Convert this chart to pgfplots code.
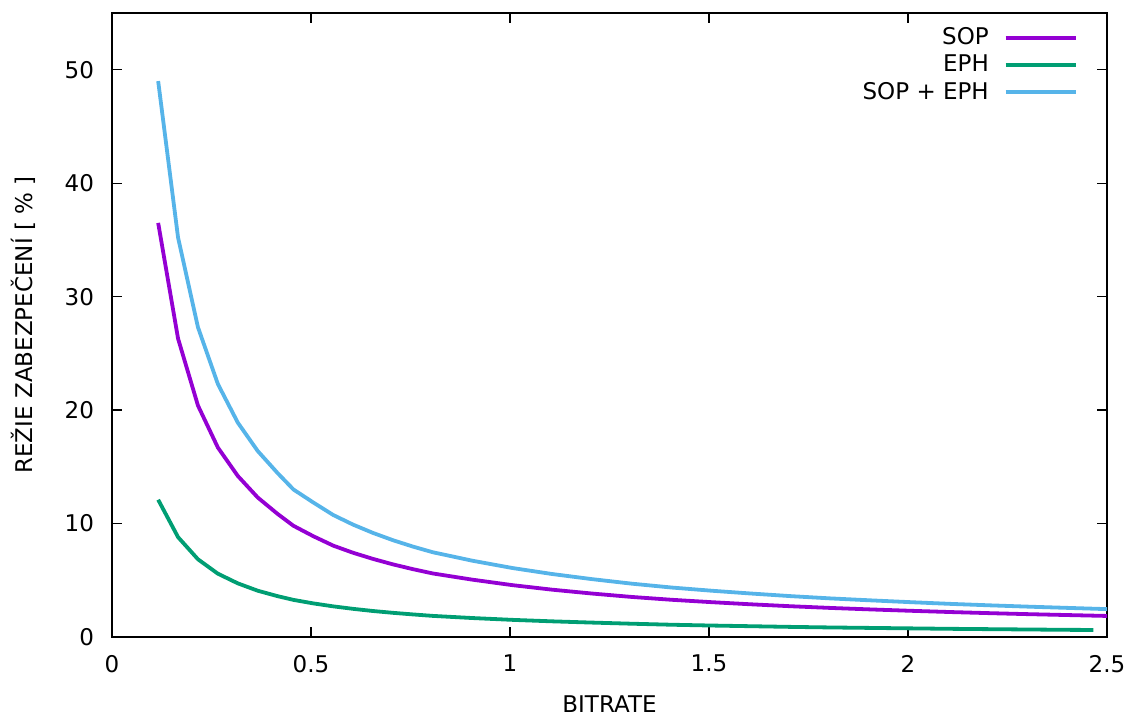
\documentclass[border=0pt]{standalone}
\usepackage{fontspec}
\setmainfont{DejaVu Sans}
\usepackage{pgfplots}
\pgfplotsset{compat=1.18}
\definecolor{cSOP}{HTML}{9400D3}
\definecolor{cEPH}{HTML}{009E73}
\definecolor{cTOT}{HTML}{56B4E9}

\pgfplotstableread{
x sop
0.116 36.5
0.166 26.3
0.216 20.4
0.266 16.7
0.316 14.2
0.366 12.3
0.416 10.85
0.456 9.8
0.506 8.88
0.556 8.05
0.606 7.42
0.656 6.88
0.706 6.40
0.756 5.98
0.806 5.60
0.906 5.05
1.006 4.57
1.106 4.17
1.206 3.83
1.306 3.53
1.406 3.28
1.506 3.07
1.606 2.88
1.706 2.71
1.806 2.56
1.906 2.43
2.006 2.31
2.106 2.20
2.206 2.10
2.306 2.01
2.406 1.93
2.506 1.85
2.606 1.78
}\sopdata

\pgfplotstableread{
x eph
0.116 12.1
0.166 8.8
0.216 6.85
0.266 5.58
0.316 4.73
0.366 4.08
0.416 3.60
0.456 3.27
0.506 2.96
0.556 2.70
0.606 2.48
0.656 2.29
0.706 2.13
0.756 1.99
0.806 1.86
0.906 1.67
1.006 1.51
1.106 1.38
1.206 1.27
1.306 1.17
1.406 1.08
1.506 1.01
1.606 0.95
1.706 0.89
1.806 0.84
1.906 0.80
2.006 0.76
2.106 0.72
2.206 0.69
2.306 0.66
2.406 0.63
2.466 0.62
}\ephdata

\pgfplotstableread{
x tot
0.116 49.0
0.166 35.2
0.216 27.3
0.266 22.3
0.316 18.9
0.366 16.4
0.416 14.45
0.456 13.0
0.506 11.85
0.556 10.75
0.606 9.90
0.656 9.17
0.706 8.53
0.756 7.97
0.806 7.47
0.906 6.72
1.006 6.08
1.106 5.55
1.206 5.10
1.306 4.70
1.406 4.36
1.506 4.08
1.606 3.83
1.706 3.60
1.806 3.40
1.906 3.23
2.006 3.07
2.106 2.92
2.206 2.79
2.306 2.67
2.406 2.56
2.506 2.45
2.606 2.36
}\totdata

\begin{document}
\fontsize{11.5}{13.5}\selectfont
\begin{tikzpicture}
\begin{axis}[
  scale only axis,
  width=497.5pt, height=312pt,
  xmin=0, xmax=2.5, ymin=0, ymax=55,
  xtick={0,0.5,1,1.5,2,2.5},
  ytick={0,10,20,30,40,50},
  xticklabels={0,0.5,1,1.5,2,2.5},
  /pgf/number format/assume math mode=true,
  tick align=inside,
  major tick length=5pt,
  tick style={black, line width=0.6pt},
  axis line style={black, line width=0.75pt},
  xticklabel style={yshift=-5pt},
  yticklabel style={xshift=-5pt},
  xlabel={BITRATE},
  ylabel={REŽIE ZABEZPEČENÍ [ \% ]},
  xlabel style={at={(axis description cs:0.5,-0.108)}, anchor=center},
  ylabel style={at={(axis description cs:-0.0894,0.5)}, anchor=center},
  legend plot pos=right,
  legend cell align=right,
  legend image code/.code={\draw[#1] (0pt,0pt) -- (35pt,0pt);},
  legend style={draw=none, fill=none, at={(axis description cs:1,1)}, anchor=north east,
    xshift=-14.5pt, yshift=-5.4pt, inner sep=0pt, row sep=0pt, column sep=7.5pt,
    nodes={inner sep=0pt, minimum height=13.6pt},
    font=\fontsize{11.5}{13.5}\selectfont},
  every axis plot/.append style={line width=1.9pt, line join=round},
]
\addplot[cSOP] table[x=x, y=sop] {\sopdata};
\addlegendentry{SOP}
\addplot[cEPH] table[x=x, y=eph] {\ephdata};
\addlegendentry{EPH}
\addplot[cTOT] table[x=x, y=tot] {\totdata};
\addlegendentry{SOP + EPH}
\end{axis}
\pgfresetboundingbox
\path[use as bounding box] ([shift={(-56pt,-39.5pt)}]current axis.south west) rectangle ([shift={(11.5pt,6.5pt)}]current axis.north east);
\end{tikzpicture}
\end{document}
